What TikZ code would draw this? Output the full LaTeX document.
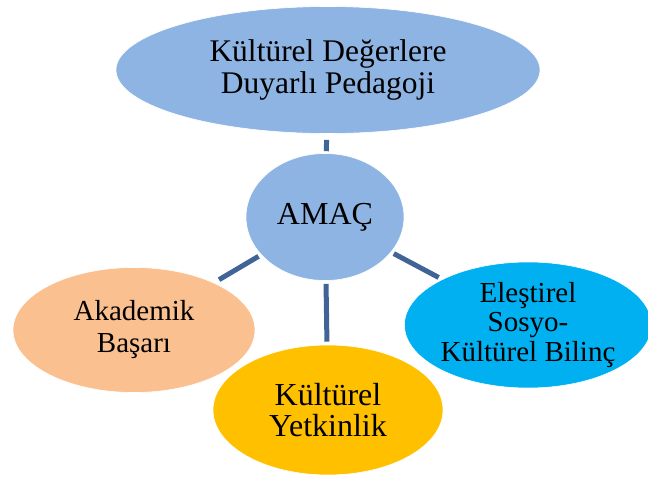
\documentclass[tikz,border=0pt]{standalone}
\usepackage{fontspec}
\setmainfont{Liberation Serif}
\usetikzlibrary{shapes.geometric}
\definecolor{paleblue}{RGB}{142, 180, 227}
\definecolor{peach}{RGB}{250, 192, 144}
\definecolor{amber}{RGB}{255, 192, 0}
\definecolor{sky}{RGB}{0, 176, 240}
\definecolor{linkblue}{RGB}{64, 100, 150}

\begin{document}
\begin{tikzpicture}[x=1pt, y=-1pt,
    blob/.style={ellipse, inner sep=0pt, align=center, draw=white, line width=0.6pt},
    link/.style={draw=linkblue, line width=5pt}]
  \useasboundingbox (0, 0) rectangle (648, 477);

  \node[blob, fill=paleblue, minimum width=424pt, minimum height=127pt,
        font=\fontsize{31.5}{32}\selectfont] (pedagoji) at (328, 70)
        {Kültürel Değerlere\\Duyarlı Pedagoji};
  \node[blob, fill=paleblue, minimum width=158pt, minimum height=127pt,
        font=\fontsize{32}{36}\selectfont] (amac) at (325, 217) {AMAÇ};

  \node[blob, fill=peach, minimum width=242pt, minimum height=125pt,
        font=\fontsize{29}{32}\selectfont] (basari) at (134, 330)
        {Akademik\\Başarı};
  \node[blob, fill=amber, minimum width=230pt, minimum height=130pt,
        font=\fontsize{32}{31}\selectfont] (yetkinlik) at (328, 410)
        {Kültürel\\Yetkinlik};
  \node[blob, fill=sky, minimum width=242pt, minimum height=126pt,
        font=\fontsize{29}{29.5}\selectfont] (bilinc) at (528, 325)
        {Eleştirel\\Sosyo-\\Kültürel Bilinç};

  % connectors
  \draw[link, shorten <=2pt, shorten >=6pt] (amac) -- (pedagoji);
  \draw[link, shorten <=3pt, shorten >=3pt] (amac) -- (yetkinlik);
  \draw[link, shorten <=3pt, shorten >=6pt] (amac) -- (basari);
  \draw[link, shorten <=3pt, shorten >=4pt] (amac) -- (bilinc);
\end{tikzpicture}
\end{document}
